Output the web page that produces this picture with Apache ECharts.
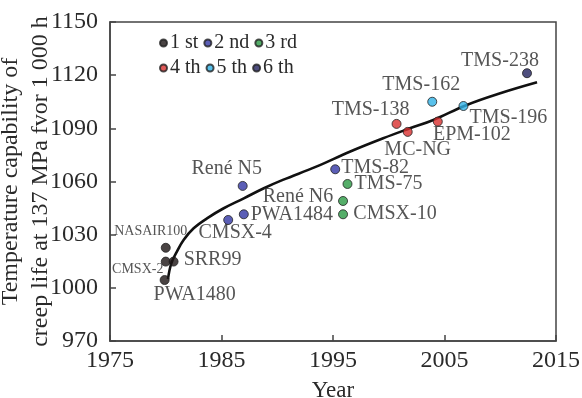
<!DOCTYPE html>
<html>
<head>
<meta charset="utf-8">
<script src="https://cdn.jsdelivr.net/npm/echarts@6/dist/echarts.min.js"></script>
<style>
html, body { margin: 0; padding: 0; background: #fff; }
#chart { width: 582px; height: 398px; }
</style>
</head>
<body>
<div id="chart"></div>
<script>
// generations of superalloys: name, year, temperature
var gen1Names = ['NASAIR100', 'CMSX-2', 'SRR99', 'PWA1480'];
var gen1Year = [1980.0, 1980.0, 1980.7, 1979.9];
var gen1Temp = [1022.6, 1014.8, 1014.8, 1004.4];

var gen2Names = ['René N5', 'PWA1484', 'CMSX-4', 'TMS-82'];
var gen2Year = [1986.9, 1987.0, 1985.6, 1995.2];
var gen2Temp = [1057.5, 1041.5, 1038.3, 1066.9];

var gen3Names = ['TMS-75', 'René N6', 'CMSX-10'];
var gen3Year = [1996.3, 1995.9, 1995.9];
var gen3Temp = [1058.6, 1049.0, 1041.5];

var gen4Names = ['TMS-138', 'MC-NG', 'EPM-102'];
var gen4Year = [2000.7, 2001.7, 2004.4];
var gen4Temp = [1092.5, 1088.0, 1093.8];

var gen5Names = ['TMS-162', 'TMS-196'];
var gen5Year = [2003.9, 2006.7];
var gen5Temp = [1105.0, 1102.6];

var gen6Names = ['TMS-238'];
var gen6Year = [2012.4];
var gen6Temp = [1121.1];

// trend curve
var curveYear = [1980.2, 1980.5, 1981.0, 1981.6, 1982.5, 1983.7, 1985.2, 1987.0, 1988.8,
    1990.5, 1993.5, 1996.5, 1999.5, 2001.9, 2004.0, 2007.0, 2010.0, 2013.3];
var curveTemp = [1005.0, 1013.8, 1020.4, 1027.0, 1033.6, 1039.2, 1044.9, 1050.5, 1056.2,
    1060.9, 1068.4, 1076.8, 1084.4, 1090.0, 1094.7, 1103.2, 1109.8, 1116.0];

var legendNames = ['1 st', '2 nd', '3 rd', '4 th', '5 th', '6 th'];
var xTicks = [1975, 1985, 1995, 2005, 2015];

// label offsets (pixels from the point centre)
var labelOffset = {
    'NASAIR100': [-15, -16], 'CMSX-2': [-28, 8], 'SRR99': [39, -2], 'PWA1480': [30, 15],
    'René N5': [-16, -17], 'PWA1484': [48, 0], 'CMSX-4': [7, 13], 'TMS-82': [40, -2],
    'TMS-75': [41, 0], 'René N6': [-45, -4], 'CMSX-10': [52, -1],
    'TMS-138': [-26, -14], 'MC-NG': [10, 18], 'EPM-102': [34, 13],
    'TMS-162': [-11, -17], 'TMS-196': [45, 12], 'TMS-238': [-27, -12]
};
var smallLabels = ['NASAIR100', 'CMSX-2'];

var colors = ['#1c1414', '#3236a4', '#2a9a44', '#d8302e', '#2fb2e6', '#22225e'];
var FONT = 'Liberation Serif';

function pairs(names, xs, ys) {
    var out = [];
    for (var i = 0; i < names.length; i++) {
        var small = smallLabels.indexOf(names[i]) >= 0;
        out.push({
            name: names[i],
            value: [xs[i], ys[i]],
            label: {
                offset: labelOffset[names[i]],
                fontSize: small ? 14 : 20
            }
        });
    }
    return out;
}

var gens = [
    pairs(gen1Names, gen1Year, gen1Temp),
    pairs(gen2Names, gen2Year, gen2Temp),
    pairs(gen3Names, gen3Year, gen3Temp),
    pairs(gen4Names, gen4Year, gen4Temp),
    pairs(gen5Names, gen5Year, gen5Temp),
    pairs(gen6Names, gen6Year, gen6Temp)
];

var curve = [];
for (var i = 0; i < curveYear.length; i++) {
    curve.push([curveYear[i], curveTemp[i]]);
}

var series = [{
    name: 'trend',
    type: 'line',
    data: curve,
    smooth: 0.4,
    symbol: 'none',
    lineStyle: { color: '#111', width: 2.6 },
    z: 2,
    silent: true
}];
for (var g = 0; g < gens.length; g++) {
    series.push({
        name: legendNames[g],
        type: 'scatter',
        data: gens[g],
        symbolSize: 9,
        z: 3,
        itemStyle: { color: colors[g], borderColor: '#222', borderWidth: 1 },
        label: {
            show: true,
            position: 'inside',
            formatter: '{b}',
            color: '#2a2a2a',
            fontFamily: FONT,
            fontSize: 20
        }
    });
}

var legendBase = {
    left: 154,
    itemWidth: 7,
    itemHeight: 7,
    itemGap: 5,
    icon: 'circle',
    selectedMode: false,
    textStyle: { fontFamily: FONT, fontSize: 20, color: '#2a2a2a', width: 46, padding: [0, 0, 0, -2] }
};

var plain = function(v) { return String(v); };

var chart = echarts.init(document.getElementById('chart'));
chart.setOption({
    animation: false,
    backgroundColor: '#fff',
    grid: {
        left: 110, right: 26, top: 22, bottom: 57,
        containLabel: false,
        outerBoundsMode: 'none',
        show: true, borderColor: '#444', borderWidth: 1.5
    },
    legend: [
        Object.assign({}, legendBase, { top: 28, data: legendNames.slice(0, 3) }),
        Object.assign({}, legendBase, { top: 53, data: legendNames.slice(3) })
    ],
    xAxis: {
        type: 'value',
        min: xTicks[0],
        max: xTicks[xTicks.length - 1],
        interval: 10,
        name: 'Year',
        nameLocation: 'middle',
        nameGap: 38,
        nameTextStyle: { fontFamily: FONT, fontSize: 23, color: '#2a2a2a' },
        axisLine: { lineStyle: { color: '#444', width: 1.5 } },
        axisTick: { inside: true, length: 6, lineStyle: { color: '#444', width: 1.5 } },
        axisLabel: { fontFamily: FONT, fontSize: 24, color: '#2a2a2a', margin: 8, formatter: plain },
        splitLine: { show: false }
    },
    yAxis: {
        type: 'value',
        min: 970,
        max: 1150,
        interval: 30,
        name: 'Temperature capability of\ncreep life at 137 MPa fvor 1 000 h',
        nameLocation: 'middle',
        nameGap: 54,
        nameMoveOverlap: false,
        nameTextStyle: { fontFamily: FONT, fontSize: 24, color: '#2a2a2a', lineHeight: 30 },
        axisLine: { lineStyle: { color: '#444', width: 1.5 } },
        axisTick: { inside: true, length: 6, lineStyle: { color: '#444', width: 1.5 } },
        axisLabel: { fontFamily: FONT, fontSize: 24, color: '#2a2a2a', margin: 12, formatter: plain },
        splitLine: { show: false }
    },
    series: series
});
</script>
</body>
</html>
